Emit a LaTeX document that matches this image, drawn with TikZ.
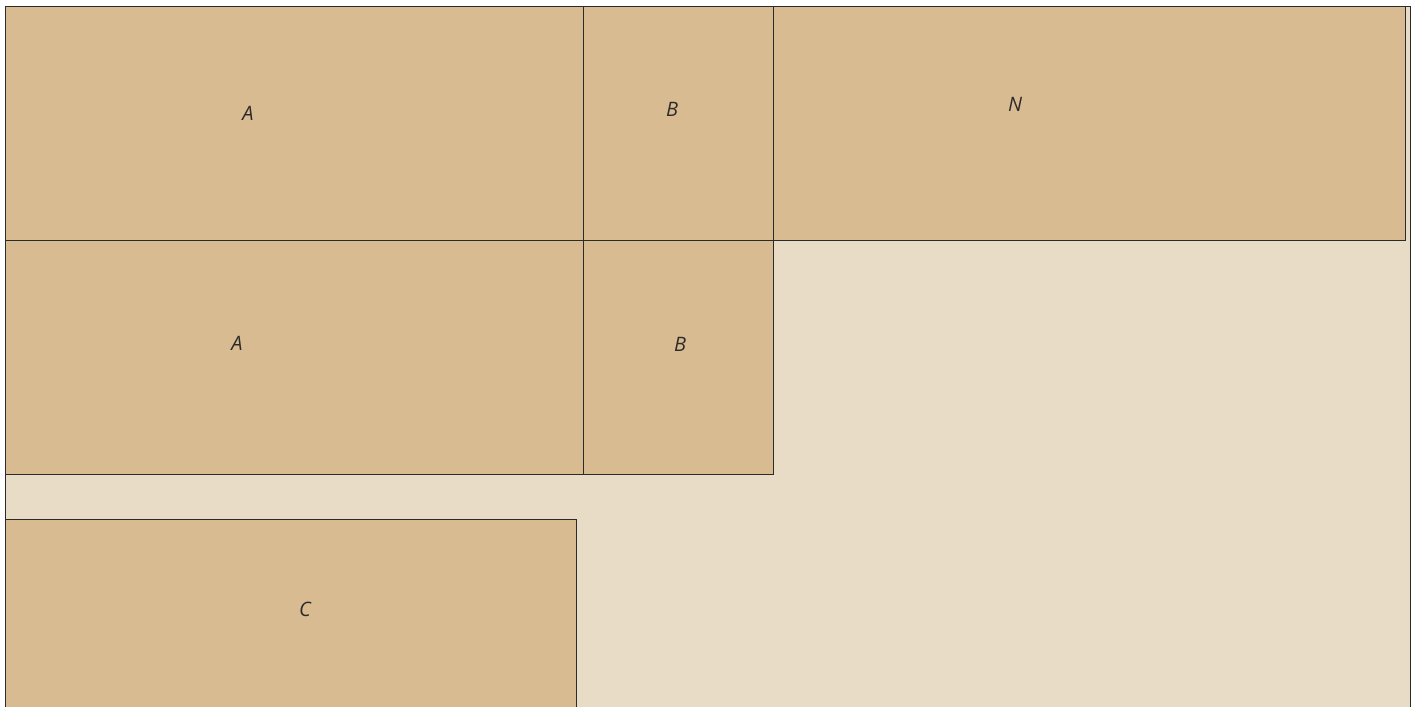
\documentclass[tikz,border=0pt]{standalone}
\usepackage{fontspec}
\setmainfont{Open Sans}
\usepackage{xcolor}
\usepackage{tikz}
\usetikzlibrary{positioning}
\definecolor{blockfill}{HTML}{D9BB91}
\definecolor{sitefill}{HTML}{E9DCC6}
\definecolor{edgegray}{HTML}{2B2B2B}

\begin{document}
\begin{tikzpicture}[
  x=0.03cm, y=-0.03cm,
  block/.style={
    rectangle,
    draw=edgegray,
    line width=0.7pt,
    fill=blockfill,
    anchor=north west,
    inner sep=0pt,
    outer sep=0pt
  },
  tag/.style={font=\fontsize{17}{20}\selectfont\itshape, text=edgegray, inner sep=0pt}
]

\useasboundingbox (0,0) rectangle (1413,707);
\clip (0,0) rectangle (1413,707);

% site background
\fill[sitefill] (5,6) rectangle (1410,720);
\draw[edgegray, line width=0.7pt] (5,720) -- (5,6) -- (1410,6) -- (1410,720);

% blocks
\node[block, minimum width=17.34cm, minimum height=7.02cm] (a1) at (5,6) {};
\node[block, minimum width=5.7cm, minimum height=7.02cm] (b1) at (583,6) {};
\node[block, minimum width=18.96cm, minimum height=7.02cm] (n1) at (773,6) {};
\node[block, minimum width=17.34cm, minimum height=7.02cm] (a2) at (5,240) {};
\node[block, minimum width=5.7cm, minimum height=7.02cm] (b2) at (583,240) {};
\node[block, minimum width=17.13cm, minimum height=6.6cm] (c1) at (5,519) {};

% labels
\node[tag] (a1tag) at (248,113) {A};
\node[tag] (b1tag) at (672,109) {B};
\node[tag] (n1tag) at (1015,104) {N};
\node[tag] (a2tag) at (237,343) {A};
\node[tag] (b2tag) at (680,344) {B};
\node[tag] (c1tag) at (305,609) {C};

\end{tikzpicture}
\end{document}
